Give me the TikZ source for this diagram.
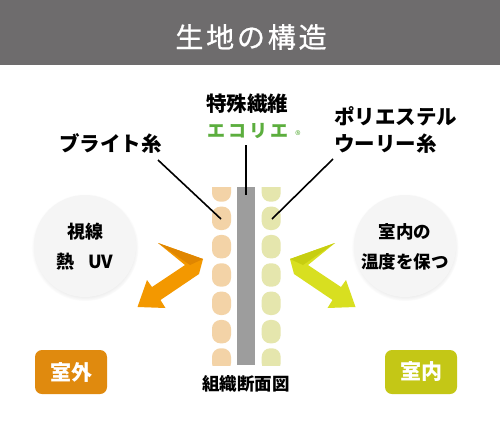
\documentclass[tikz,border=0pt]{standalone}
\usepackage{fontspec}
\setmainfont{Noto Sans CJK JP}
\usetikzlibrary{shadows}
\definecolor{headergray}{HTML}{6E6C6D}
\definecolor{peach}{HTML}{F3D3A7}
\definecolor{paleyel}{HTML}{E5E6AD}
\definecolor{bargray}{HTML}{9D9D9D}
\definecolor{ecogreen}{HTML}{5CAE3E}
\definecolor{arrorange}{HTML}{F39800}
\definecolor{arrorangedk}{HTML}{E08600}
\definecolor{arryel}{HTML}{D8DF20}
\definecolor{arryeldk}{HTML}{C7CE10}
\definecolor{boxorange}{HTML}{E08A0E}
\definecolor{boxyel}{HTML}{C4C716}
\definecolor{bubblefill}{HTML}{F5F5F5}
\tikzset{
  lbl/.style={inner sep=0pt, font=\fontsize{20.5}{24}\selectfont\bfseries},
  leader/.style={draw=black, line width=1.6pt},
  bubble/.style={circle, fill=bubblefill, minimum size=102pt, inner sep=0pt,
    circular drop shadow={shadow xshift=0pt, shadow yshift=-1.5pt, shadow scale=1.05, opacity=0.22}},
  bubbletext/.style={inner sep=0pt, align=center, font=\fontsize{18}{30}\selectfont\bfseries},
  sidebox/.style={rounded corners=7pt, minimum width=72pt, minimum height=44pt, inner sep=0pt,
    text=white, font=\fontsize{21}{24}\selectfont\bfseries},
}
\begin{document}
\begin{tikzpicture}[x=1pt,y=-1pt]
\useasboundingbox (0,0) rectangle (500,437);
\fill[white] (0,0) rectangle (500,437);
% header
\fill[headergray] (0,0) rectangle (500,65);
\node[inner sep=0pt, text=white, font=\fontsize{28}{30}\selectfont\addfontfeature{LetterSpace=10,FakeBold=0.8}] (title) at (251,37) {生地の構造};

% fabric cross-section
\begin{scope}
  \clip (200,187) rectangle (300,365);
  \foreach \i in {0,...,6} {
    \fill[peach, rounded corners=8.5pt] (212,{178.3+28.33*\i}) rectangle ++(19,23.4);
    \fill[paleyel, rounded corners=8.5pt] (261.7,{178.3+28.33*\i}) rectangle ++(19,23.4);
  }
\end{scope}
\node[fill=bargray, minimum width=18.3pt, minimum height=178pt, inner sep=0pt, anchor=north west] (fiber) at (236.7,187) {};

% labels
\node[lbl] (tokushu) at (247,104) {特殊繊維};
\node[inner sep=0pt, text=ecogreen, font=\fontsize{18}{20}\selectfont\bfseries\addfontfeature{LetterSpace=17}] (ecolie) at (248,131) {エコリエ};
\node[inner sep=0pt, text=ecogreen, font=\fontsize{11}{12}\selectfont] (reg) at (298,135) {®};
\node[lbl] (bright) at (110.5,143.5) {ブライト糸};
\node[lbl, anchor=west] (poly1) at (334,116.5) {ポリエステル};
\node[lbl, anchor=west] (poly2) at (334,143.5) {ウーリー糸};

% leader lines
\coordinate (cTop) at (246,145);
\coordinate (cEnd) at (246,195);
\coordinate (lTop) at (158,160);
\coordinate (lEnd) at (221,219);
\coordinate (rTop) at (333,159);
\coordinate (rEnd) at (272,219);
\draw[leader] (cTop) -- (cEnd);
\draw[leader] (lTop) -- (lEnd);
\draw[leader] (rTop) -- (rEnd);

% bubbles
\node[bubble] (lbub) at (85,246) {};
\node[bubbletext] (ltext) at (85,247) {視線\\熱\hspace{0.75em}UV};
\node[bubble] (rbub) at (405,246) {};
\node[bubbletext, font=\fontsize{17.5}{30}\selectfont\bfseries] (rtext) at (405,247) {室内の\\温度を保つ};

% arrows
\fill[arrorange] (158,243) -- (203,259) -- (199,274) -- (160.5,300) -- (165.5,308) -- (137.5,307)
  -- (147,280) -- (152,287) -- (185,265) -- cycle;
\fill[arrorangedk] (158,243) -- (203,259) -- (190,265) -- cycle;
\fill[arryel] (335,243) -- (290,259) -- (294,274) -- (332.5,300) -- (327.5,308) -- (355.5,307)
  -- (346,280) -- (341,287) -- (308,265) -- cycle;
\fill[arryeldk] (335,243) -- (290,259) -- (303,265) -- cycle;

% caption and side boxes
\node[inner sep=0pt, font=\fontsize{17.5}{20}\selectfont\bfseries] (caption) at (246,383.5) {組織断面図};
\node[sidebox, fill=boxorange] (outside) at (71,372) {室外};
\node[sidebox, fill=boxyel] (inside) at (421,372) {室内};
\end{tikzpicture}
\end{document}
